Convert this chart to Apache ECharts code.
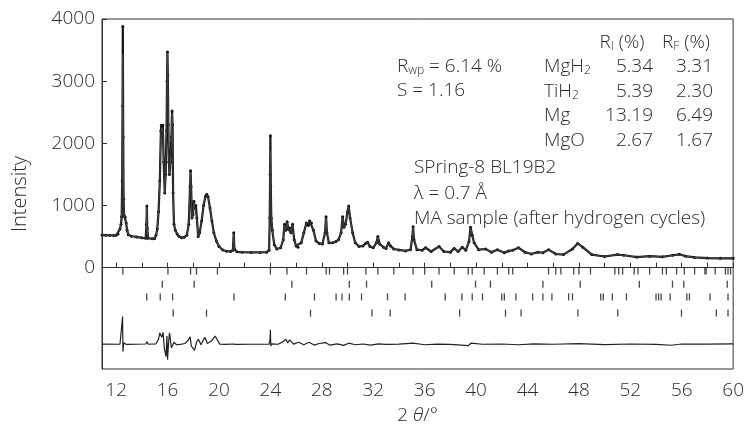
<!DOCTYPE html>
<html>
<head>
<meta charset="utf-8">
<script src="https://cdn.jsdelivr.net/npm/echarts@6/dist/echarts.min.js"></script>
<style>
  html, body { margin: 0; padding: 0; background: #fff; }
  #chart { width: 747px; height: 432px; }
</style>
</head>
<body>
<div id="chart"></div>
<script>
// 2θ positions of the read-off profile points
const twoTheta = [
  10.9, 11.2, 11.5, 11.8, 12.0, 12.15, 12.3, 12.38, 12.43, 12.47, 12.5, 12.52, 12.55, 12.58, 12.62, 12.7, 12.78, 12.85, 12.95,
  13.2, 13.6, 14.0, 14.3, 14.36, 14.39, 14.42, 14.48, 14.8, 15.0, 15.1, 15.2, 15.3, 15.4, 15.48, 15.52, 15.58, 15.63, 15.7,
  15.78, 15.85, 15.92, 15.96, 15.99, 16.02, 16.06, 16.1, 16.15, 16.22, 16.3, 16.35, 16.39, 16.43, 16.5, 16.6, 16.75, 16.9,
  17.1, 17.3, 17.5, 17.65, 17.75, 17.79, 17.83, 17.9, 17.98, 18.05, 18.12, 18.2, 18.28, 18.38, 18.5, 18.65, 18.8, 18.95,
  19.05, 19.15, 19.3, 19.45, 19.6, 19.8, 20.0, 20.3, 20.6, 20.9, 21.08, 21.15, 21.2, 21.4, 21.8, 22.5, 23.2, 23.7, 23.9,
  23.95, 23.98, 24.0, 24.03, 24.07, 24.15, 24.3, 24.5, 24.8, 25.0, 25.1, 25.2, 25.3, 25.4, 25.5, 25.6, 25.72, 25.85, 26.0,
  26.15, 26.4, 26.6, 26.8, 26.95, 27.05, 27.2, 27.35, 27.55, 27.8, 28.05, 28.25, 28.33, 28.4, 28.55, 28.85, 29.1, 29.3,
  29.5, 29.62, 29.72, 29.85, 30.0, 30.09, 30.2, 30.4, 30.6, 30.9, 31.2, 31.4, 31.56, 31.75, 32.0, 32.25, 32.36, 32.5, 32.8,
  33.0, 33.19, 33.35, 33.6, 34.0, 34.5, 34.9, 35.05, 35.1, 35.17, 35.4, 35.8, 36.08, 36.5, 37.12, 37.5, 38.0, 38.3, 38.6,
  38.93, 39.2, 39.45, 39.57, 39.7, 39.85, 40.2, 40.74, 41.2, 41.66, 42.2, 42.54, 42.85, 43.3, 43.8, 44.3, 44.8, 45.2,
  45.64, 46.2, 46.8, 47.5, 47.9, 48.3, 49.0, 50.0, 51.0, 51.5, 52.5, 53.5, 54.5, 55.3, 55.8, 56.3, 57.0, 58.0, 59.0, 60.0
];
// observed intensity (dots)
const yObs = [
  525, 522, 520, 518, 522, 540, 620, 700, 820, 1400, 2600, 3880, 2100, 1100, 840, 810, 720, 600, 530,
  505, 495, 480, 475, 700, 990, 640, 475, 465, 470, 520, 620, 900, 1400, 2200, 2290, 2250, 2290, 1700,
  1200, 1500, 2200, 3000, 3470, 3100, 2300, 1700, 1500, 1700, 2100, 2520, 2300, 1200, 700, 600, 540, 500,
  480, 490, 520, 700, 1300, 1560, 1300, 800, 850, 1070, 960, 1000, 800, 500, 560, 750, 1000, 1150,
  1180, 1140, 960, 750, 560, 430, 340, 285, 265, 260, 280, 560, 300, 255, 250, 245, 245, 250, 280,
  800, 1500, 2120, 1300, 800, 600, 370, 300, 320, 450, 700, 600, 740, 620, 640, 560, 700, 450, 350,
  330, 400, 560, 720, 680, 750, 720, 600, 430, 390, 380, 560, 820, 560, 400, 400, 420, 450,
  560, 820, 650, 700, 900, 990, 800, 560, 400, 340, 350, 390, 410, 340, 320, 400, 500, 380, 330,
  310, 400, 350, 300, 285, 270, 290, 500, 660, 450, 290, 280, 320, 260, 340, 260, 250, 310, 260,
  330, 280, 420, 650, 520, 400, 290, 300, 250, 290, 240, 270, 280, 320, 250, 220, 250, 240,
  290, 220, 210, 300, 390, 330, 210, 180, 210, 200, 170, 185, 175, 200, 215, 185, 165, 155, 150, 150
];
// calculated intensity (line)
const yCalc = [
  525, 522, 520, 518, 522, 540, 620, 700, 820, 1400, 2500, 3440, 2000, 1100, 840, 810, 720, 600, 530,
  505, 495, 480, 475, 700, 970, 640, 475, 465, 470, 520, 620, 900, 1400, 2150, 2250, 2200, 2250, 1700,
  1200, 1500, 2200, 3000, 3450, 3100, 2300, 1700, 1500, 1700, 2100, 2480, 2300, 1200, 700, 600, 540, 500,
  480, 490, 520, 700, 1300, 1530, 1300, 800, 850, 1050, 960, 990, 800, 500, 560, 750, 1000, 1140,
  1170, 1130, 960, 750, 560, 430, 340, 285, 265, 260, 280, 540, 300, 255, 250, 245, 245, 250, 280,
  760, 1400, 1880, 1250, 800, 600, 370, 300, 320, 450, 680, 600, 720, 620, 630, 560, 690, 450, 350,
  330, 400, 560, 710, 680, 740, 710, 600, 430, 390, 380, 560, 800, 560, 400, 400, 420, 450,
  560, 800, 650, 700, 890, 980, 800, 560, 400, 340, 350, 390, 410, 340, 320, 400, 490, 380, 330,
  310, 400, 350, 300, 285, 270, 290, 500, 650, 450, 290, 280, 320, 260, 340, 260, 250, 310, 260,
  330, 280, 420, 640, 520, 400, 290, 300, 250, 290, 240, 270, 280, 320, 250, 220, 250, 240,
  290, 220, 210, 300, 390, 330, 210, 180, 210, 200, 170, 185, 175, 200, 215, 185, 165, 155, 150, 150
];
// difference curve (offset below the tick rows)
const diffPoints = [
  [10.9, -1230], [12.3, -1232], [12.45, -1200], [12.5, -785], [12.53, -1350], [12.58, -1210], [12.8, -1235],
  [14.3, -1228], [14.4, -1190], [14.5, -1232], [15.1, -1225], [15.3, -1150], [15.4, -1050], [15.55, -1120],
  [15.65, -1040], [15.75, -1300], [15.88, -1430], [15.95, -1100], [16.0, -1480], [16.08, -1200], [16.15, -1050],
  [16.3, -1290], [16.5, -1200], [16.7, -1240], [17.0, -1235], [17.35, -1220], [17.6, -1170], [17.75, -1110],
  [17.85, -1260], [17.95, -1290], [18.1, -1330], [18.25, -1200], [18.4, -1150], [18.6, -1240], [18.9, -1120],
  [19.1, -1220], [19.4, -1180], [19.7, -1100], [20.06, -1230], [20.5, -1235], [21.1, -1228], [21.2, -1210],
  [21.3, -1235], [22.5, -1232], [23.9, -1230], [23.97, -1150], [24.0, -1000], [24.03, -1260], [24.1, -1225],
  [24.6, -1232], [25.0, -1190], [25.2, -1150], [25.35, -1210], [25.5, -1160], [25.8, -1230], [26.2, -1200],
  [26.6, -1240], [27.0, -1200], [27.4, -1245], [27.8, -1220], [28.3, -1205], [28.6, -1245], [29.2, -1225],
  [29.7, -1250], [30.1, -1215], [30.6, -1240], [31.2, -1228], [31.8, -1245], [32.4, -1225], [33.0, -1235],
  [34.0, -1230], [35.1, -1215], [36.0, -1240], [37.0, -1230], [38.0, -1235], [39.4, -1255], [39.6, -1215],
  [40.5, -1232], [42.0, -1228], [43.3, -1240], [44.5, -1225], [46.0, -1232], [48.0, -1222], [50.0, -1238],
  [52.0, -1228], [54.0, -1235], [55.2, -1248], [56.0, -1228], [58.0, -1230], [60.0, -1225]
];
// reflection positions (2θ) of each phase
const ticksMgH2 = [12.52, 16.03, 17.79, 18.25, 19.88, 24.0, 25.29, 26.81, 28.34, 28.6, 29.7, 30.0, 31.43, 32.36, 33.6,
  35.1, 36.0, 37.12, 38.3, 39.39, 39.7, 40.63, 41.66, 42.54, 42.85, 45.64, 46.2, 46.6, 47.6, 48.0, 48.9, 50.8, 51.1,
  51.4, 52.3, 52.6, 53.5, 54.5, 54.8, 55.6, 56.2, 57.0, 57.8, 57.9, 58.6, 59.4, 59.6, 59.8];
const ticksTiH2 = [15.59, 18.07, 25.67, 30.14, 31.48, 36.55, 39.96, 41.12, 45.2, 48.1, 52.7, 55.28, 56.16, 59.54];
const ticksMg = [14.38, 15.43, 16.39, 21.17, 25.16, 27.43, 29.11, 29.57, 30.14, 31.09, 33.11, 34.48, 37.6, 38.9,
  39.7, 40.5, 42.0, 42.2, 43.1, 44.4, 45.2, 45.9, 47.2, 47.5, 49.7, 49.9, 50.6, 51.7, 54.0, 54.2, 54.4, 55.1, 56.4,
  56.6, 58.2, 59.6];
const ticksMgO = [16.44, 19.03, 27.12, 31.9, 33.32, 38.72, 42.29, 43.5, 47.92, 51.02, 55.98, 58.69, 59.6];
// where each tick row sits on the intensity axis
const tickRowLevels = [-55, -265, -470, -730];
const xTickValues = [12, 14, 16, 18, 20, 22, 24, 26, 28, 30, 32, 34, 36, 38, 40, 42, 44, 46, 48, 50, 52, 54, 56, 58, 60];
const xLabelValues = [12, 16, 20, 24, 28, 32, 36, 40, 44, 48, 52, 56, 60];
const yLabelValues = [0, 1000, 2000, 3000, 4000];
// refinement table
const phaseNames = ['MgH{s|2}', 'TiH{s|2}', 'Mg', 'MgO'];
const rI = ['5.34', '5.39', '13.19', '2.67'];
const rF = ['3.31', '2.30', '6.49', '1.67'];

const FONT = '"Open Sans", "Noto Sans", sans-serif';
const TXT = '#2b2b2b';
const FS = 19;

let chart = echarts.init(document.getElementById('chart'), null, { renderer: 'canvas' });

let obsData = twoTheta.map((t, i) => [t, yObs[i]]);
let calcData = twoTheta.map((t, i) => [t, yCalc[i]]);

let series = [
  {
    name: 'obs',
    type: 'line',
    data: obsData,
    showSymbol: true,
    symbol: 'circle',
    symbolSize: 3,
    itemStyle: { color: '#151515' },
    lineStyle: { color: '#151515', width: 2.2 },
    animation: false,
    z: 3
  },
  {
    name: 'calc',
    type: 'line',
    data: calcData,
    showSymbol: false,
    lineStyle: { color: '#444', width: 1 },
    animation: false,
    z: 4
  },
  {
    name: 'diff',
    type: 'line',
    data: diffPoints,
    showSymbol: false,
    lineStyle: { color: '#222', width: 1.2 },
    animation: false
  }
];
[ticksMgH2, ticksTiH2, ticksMg, ticksMgO].forEach((arr, k) => {
  series.push({
    name: 'ticks' + k,
    type: 'scatter',
    data: arr.map(t => [t, tickRowLevels[k]]),
    symbol: 'rect',
    symbolSize: [1.3, 7],
    itemStyle: { color: '#1a1a1a' },
    animation: false
  });
});

// text blocks
let graphic = [];
function addText(x, y, text, align, rich) {
  graphic.push({
    type: 'text',
    x: x,
    y: y,
    style: {
      text: text,
      align: align || 'left',
      verticalAlign: 'middle',
      fill: TXT,
      font: '300 ' + FS + 'px ' + FONT,
      rich: rich || {}
    },
    z: 10
  });
}
const subRich = {
  s: { fontSize: 12, fontFamily: FONT, fontWeight: 300, fill: TXT, verticalAlign: 'bottom', padding: [8, 0, 0, 0] },
  c: { fontSize: 12, fontFamily: FONT, fontWeight: 300, fill: TXT, verticalAlign: 'bottom', padding: [4, 0, 0, 0] }
};
addText(397, 67, 'R{s|wp} = 6.14 %', 'left', subRich);
addText(397, 91, 'S = 1.16', 'left');
addText(622, 43, 'R{c|I} (%)', 'center', subRich);
addText(686, 43, 'R{c|F} (%)', 'center', subRich);
phaseNames.forEach((p, i) => {
  let y = 67 + i * 24.4;
  addText(544, y, p, 'left', subRich);
  addText(653, y, rI[i], 'right');
  addText(713, y, rF[i], 'right');
});
addText(414, 168, 'SPring-8 BL19B2', 'left');
addText(414, 194, 'λ = 0.7 Å', 'left');
addText(414, 219, 'MA sample (after hydrogen cycles)', 'left');

let option = {
  backgroundColor: '#fff',
  animation: false,
  grid: {
    left: 102,
    right: 12,
    top: 19,
    bottom: 63,
    show: true,
    borderColor: '#333',
    borderWidth: 1
  },
  xAxis: {
    type: 'value',
    min: 10.9,
    max: 60,
    name: '2 {i|θ}/°',
    nameLocation: 'middle',
    nameGap: 37,
    nameTextStyle: {
      fontSize: FS,
      fontFamily: FONT,
      fontWeight: 300,
      color: TXT,
      rich: { i: { fontSize: FS, fontFamily: FONT, fontWeight: 300, fontStyle: 'italic', color: TXT } }
    },
    axisLine: { show: true, lineStyle: { color: '#333', width: 1 } },
    axisTick: { show: true, inside: true, length: 5, customValues: xTickValues, lineStyle: { color: '#333' } },
    axisLabel: { customValues: xLabelValues, fontSize: FS, fontFamily: FONT, fontWeight: 300, color: TXT, margin: 12 },
    splitLine: { show: false }
  },
  yAxis: {
    type: 'value',
    min: -1630,
    max: 4000,
    name: 'Intensity',
    nameLocation: 'middle',
    nameGap: 72,
    nameTextStyle: { fontSize: 20, fontFamily: FONT, fontWeight: 300, color: TXT },
    axisLine: { show: true, lineStyle: { color: '#333', width: 1 } },
    axisTick: { show: true, inside: true, length: 5, customValues: yLabelValues, lineStyle: { color: '#333' } },
    axisLabel: {
      customValues: yLabelValues,
      formatter: v => String(v),
      fontSize: FS, fontFamily: FONT, fontWeight: 300, color: TXT, margin: 7
    },
    splitLine: { show: false }
  },
  graphic: graphic,
  series: series
};
chart.setOption(option);
</script>
</body>
</html>
